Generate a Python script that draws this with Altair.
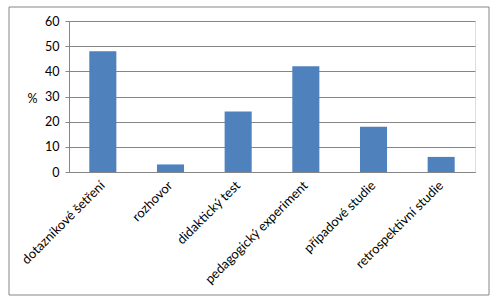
import altair as alt
import pandas as pd

categories = ["dotazníkové šetření", "rozhovor", "didaktický test",
              "pedagogický experiment", "případové studie", "retrospektivní studie"]
values = [48, 3, 24, 42, 18, 6]

df = pd.DataFrame({"cat": categories, "val": values})

FONT = "Lato"
GRID = "#868686"

bars = alt.Chart(df).mark_bar(color="#4F81BD").encode(
    x=alt.X("cat:N", sort=categories,
            scale=alt.Scale(paddingInner=0.6, paddingOuter=0.3),
            axis=alt.Axis(title=None, labelAngle=-45, labelAlign="right",
                          labelBaseline="middle", labelPadding=11, ticks=False,
                          domainColor=GRID, labelFont=FONT, labelFontSize=13,
                          labelColor="#000000", labelLimit=300)),
    y=alt.Y("val:Q", scale=alt.Scale(domain=[0, 60]),
            axis=alt.Axis(title="%", titleAngle=0, titleAlign="right",
                          titleBaseline="middle", titleX=-32, titleY=77,
                          titleFont=FONT, titleFontSize=12.5, titleFontWeight="normal",
                          titleColor="#000000",
                          values=[0, 10, 20, 30, 40, 50, 60],
                          tickSize=4, tickColor=GRID, domainColor=GRID,
                          gridColor=GRID, labelFont=FONT, labelFontSize=12.5,
                          labelColor="#000000", labelPadding=6)),
)

frame = alt.Chart(df).mark_rect(fill=None, stroke=GRID, strokeWidth=1, clip=False).encode(
    x=alt.value(-60), x2=alt.value(420), y=alt.value(-14), y2=alt.value(274)
).transform_filter(alt.datum.cat == categories[0])

chart = alt.layer(frame, bars).properties(
    width=406, height=151,
    autosize=alt.AutoSizeParams(type="none"),
    padding={"left": 69, "top": 21, "right": 23, "bottom": 130},
).configure_view(stroke=None).configure(background="#ffffff")

chart.save("out.html", embed_options={"renderer": "svg", "actions": False})
